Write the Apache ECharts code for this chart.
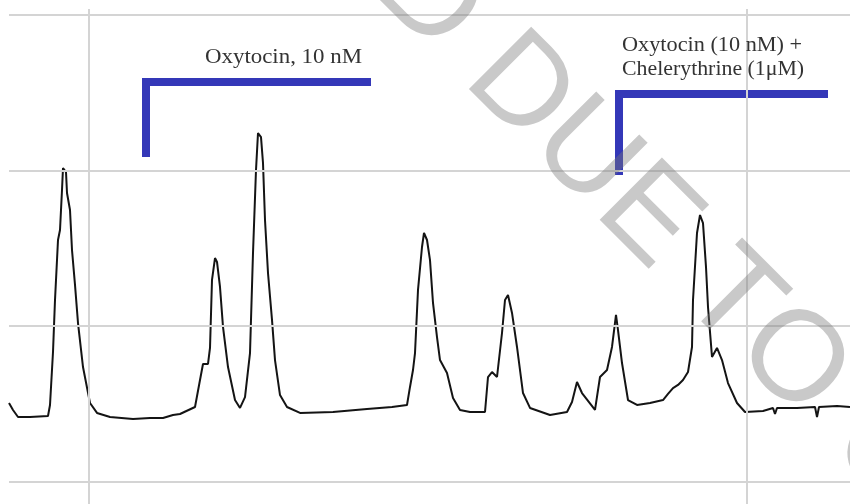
<!DOCTYPE html>
<html><head><meta charset="utf-8">
<script src="https://cdn.jsdelivr.net/npm/echarts@6/dist/echarts.min.js"></script>
<style>html,body{margin:0;padding:0;background:#fff}#c{width:850px;height:504px}</style>
</head><body><div id="c"></div>
<script>
// trace: time (arbitrary units) and tension (grid units)
const time = [9,13,18,30,48,50,53,55,57,58,
  60,62,63,65,66,67,70,72,75,78,
  83,90,97,110,133,150,163,173,180,195,
  200,203,208,210,212,215,217,220,223,228,
  235,240,245,250,253,256,258,261,263,265,
  268,272,275,280,287,300,333,367,392,407,
  410,413,415,418,422,424,427,430,433,437,
  440,447,453,460,470,485,488,492,497,502,
  505,508,512,517,523,530,550,567,572,577,
  582,595,600,607,612,616,618,622,628,637,
  650,663,668,673,678,683,688,692,693,697,
  700,703,706,708,712,717,722,728,737,745,
  763,773,775,777,797,815,817,819,837,850];
const tension = [0.505,0.460,0.415,0.415,0.421,0.492,0.833,1.167,1.424,1.553,
  1.617,1.875,2.016,2.023,1.990,1.855,1.746,1.489,1.264,1.019,
  0.736,0.505,0.441,0.415,0.402,0.408,0.408,0.428,0.434,0.479,
  0.653,0.756,0.756,0.859,1.296,1.437,1.412,1.251,0.994,0.736,
  0.524,0.473,0.543,0.826,1.469,2.003,2.241,2.215,2.048,1.682,
  1.341,1.039,0.781,0.556,0.479,0.441,0.447,0.466,0.479,0.492,
  0.608,0.717,0.826,1.232,1.508,1.598,1.553,1.424,1.148,0.929,
  0.781,0.698,0.537,0.460,0.447,0.447,0.672,0.704,0.672,0.955,
  1.167,1.199,1.084,0.865,0.569,0.473,0.428,0.447,0.511,0.640,
  0.569,0.460,0.672,0.717,0.865,1.071,0.974,0.762,0.524,0.492,
  0.505,0.524,0.563,0.601,0.621,0.653,0.704,0.865,1.167,1.598,
  1.714,1.662,1.379,1.122,0.801,0.859,0.781,0.633,0.505,0.447,
  0.453,0.473,0.434,0.473,0.473,0.479,0.415,0.479,0.486,0.479];

// application brackets (time, level)
const bracket1 = [[146, 2.087], [146, 2.569], [371, 2.569]];
const bracket2 = [[619, 1.971], [619, 2.492], [828, 2.492]];
const label1 = 'Oxytocin, 10 nM';
const label2 = ['Oxytocin (10 nM) +', 'Chelerythrine (1μM)'];

// grid lines
const gridX = [89, 747];
const gridY = [0, 1, 2, 3];

const chart = echarts.init(document.getElementById('c'), null, {renderer: 'canvas'});
const gridLineStyle = {color: '#d4d4d4', width: 2, type: 'solid'};
const labelFont = '21px "Liberation Serif"';
chart.setOption({
  animation: false,
  backgroundColor: '#ffffff',
  grid: {left: 9, right: 0, top: 9, bottom: 0},
  xAxis: {type: 'value', min: 9, max: 850, show: false, splitLine: {show: false}},
  yAxis: {type: 'value', min: -0.1447, max: 3.0386, show: false, splitLine: {show: false}},
  series: [
    {
      type: 'line', data: [], z: 1, silent: true,
      markLine: {
        silent: true, symbol: ['none', 'none'], label: {show: false},
        lineStyle: gridLineStyle, animation: false,
        data: gridX.map(v => ({xAxis: v})).concat(gridY.map(v => ({yAxis: v})))
      }
    },
    {
      type: 'line', z: 3, symbol: 'none', silent: true,
      data: time.map((t, i) => [t, tension[i]]),
      lineStyle: {color: '#141414', width: 2}
    },
    {
      type: 'line', z: 4, symbol: 'none', silent: true, data: bracket1,
      lineStyle: {color: '#3438b8', width: 8, join: 'miter', cap: 'butt'}
    },
    {
      type: 'line', z: 4, symbol: 'none', silent: true, data: bracket2,
      lineStyle: {color: '#3438b8', width: 8, join: 'miter', cap: 'butt'}
    }
  ],
  graphic: [
    {
      type: 'text', x: 283.5, y: 57, z: 10, scaleX: 1.09,
      style: {text: label1, font: labelFont, fill: '#333', align: 'center', verticalAlign: 'middle'}
    },
    {
      type: 'text', x: 622, y: 45, z: 10, scaleX: 1.06,
      style: {text: label2[0], font: labelFont, fill: '#333', align: 'left', verticalAlign: 'middle'}
    },
    {
      type: 'text', x: 622, y: 69, z: 10, scaleX: 1.04,
      style: {text: label2[1], font: labelFont, fill: '#333', align: 'left', verticalAlign: 'middle'}
    },
    {
      type: 'text', x: 396, y: -34, rotation: -Math.PI / 4, z: 20, silent: true,
      style: {text: 'D DUE TO C', font: '128px "Liberation Sans"', fill: 'rgba(120,120,120,0.4)', align: 'left', verticalAlign: 'middle'}
    }
  ]
});
</script>
</body></html>
